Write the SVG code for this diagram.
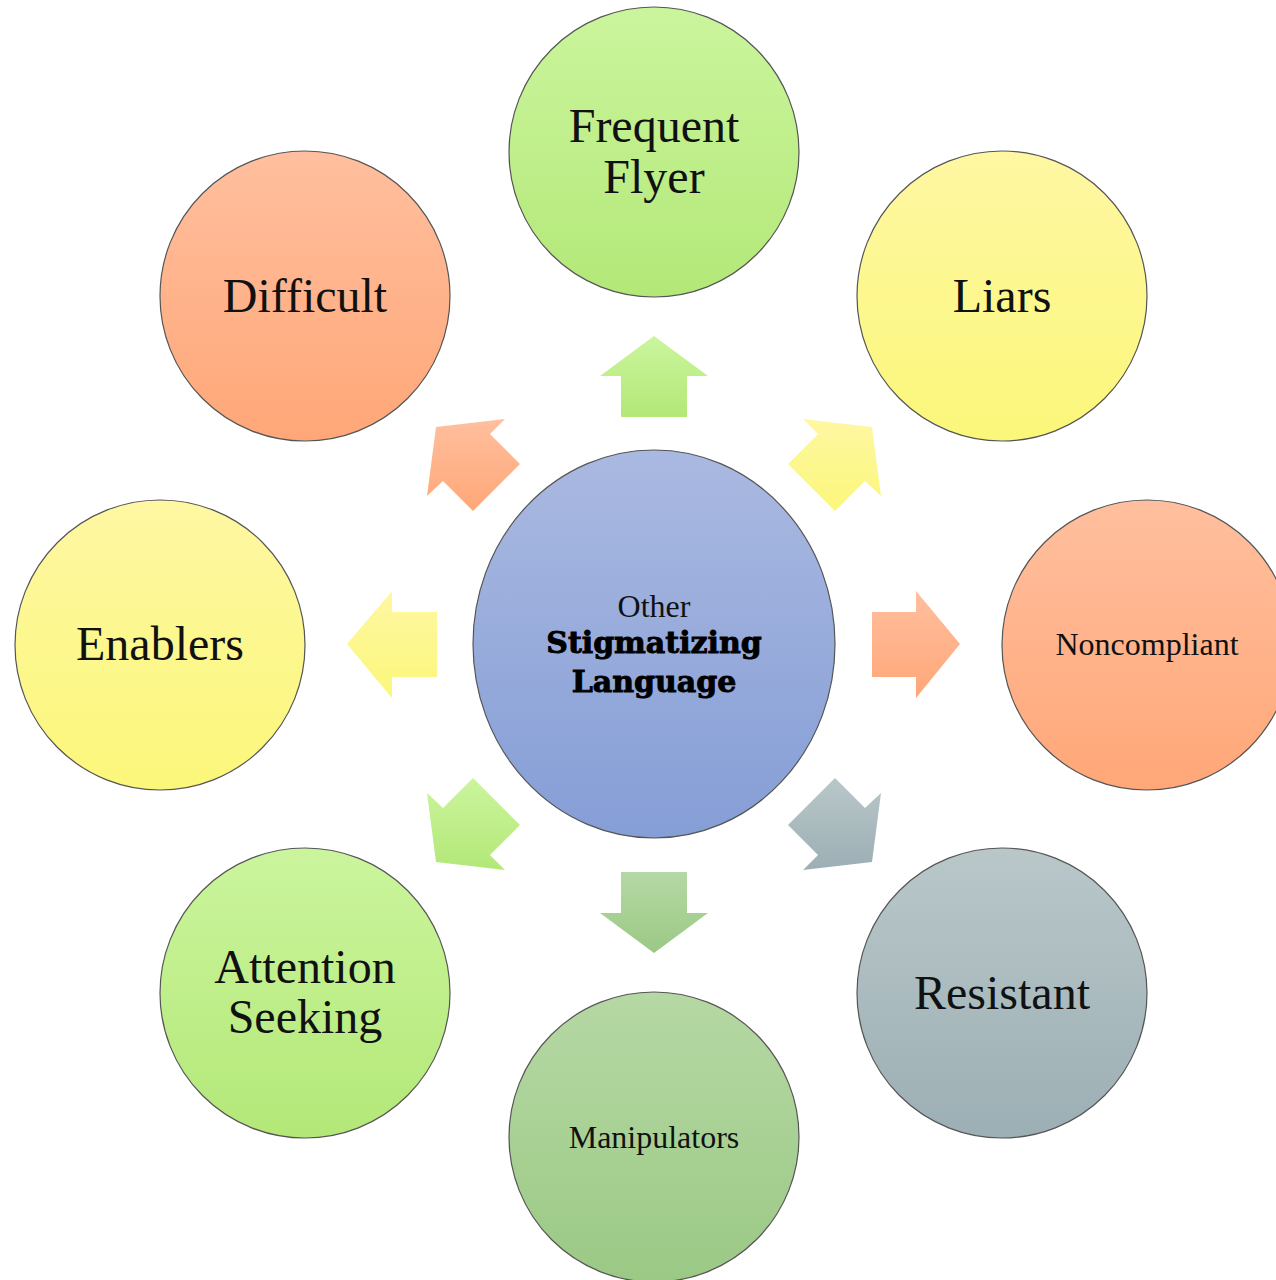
<svg xmlns="http://www.w3.org/2000/svg" width="1276" height="1280" viewBox="0 0 1276 1280">
  <defs>
    <linearGradient id="gGreen" x1="0" y1="0" x2="0" y2="1">
      <stop offset="0" stop-color="#cbf59d"/>
      <stop offset="1" stop-color="#b3e878"/>
    </linearGradient>
    <linearGradient id="gOrange" x1="0" y1="0" x2="0" y2="1">
      <stop offset="0" stop-color="#ffbf9e"/>
      <stop offset="1" stop-color="#ffa778"/>
    </linearGradient>
    <linearGradient id="gYellow" x1="0" y1="0" x2="0" y2="1">
      <stop offset="0" stop-color="#fff7a3"/>
      <stop offset="1" stop-color="#fbf77a"/>
    </linearGradient>
    <linearGradient id="gGray" x1="0" y1="0" x2="0" y2="1">
      <stop offset="0" stop-color="#b9c7c9"/>
      <stop offset="1" stop-color="#9cafb4"/>
    </linearGradient>
    <linearGradient id="gSage" x1="0" y1="0" x2="0" y2="1">
      <stop offset="0" stop-color="#b6d8a4"/>
      <stop offset="1" stop-color="#9bc985"/>
    </linearGradient>
    <linearGradient id="gBlue" x1="0" y1="0" x2="0" y2="1">
      <stop offset="0" stop-color="#aab9e1"/>
      <stop offset="1" stop-color="#859ed6"/>
    </linearGradient>
  </defs>
  <style>
    .node { stroke: #555555; stroke-width: 1.2; }
    .lbl { font-family: "Liberation Serif", "DejaVu Serif", serif; font-size: 48px; fill: #111111; text-anchor: middle; }
    .sm { font-size: 32px; }
    .bold { font-family: "DejaVu Serif", "Liberation Serif", serif; font-weight: bold; font-size: 30px; fill: #000000; stroke: #000000; stroke-width: 0.9; text-anchor: middle; }
  </style>
  <rect width="1276" height="1280" fill="#ffffff"/>

  <!-- block arrows from the hub to each outer circle -->
  <g id="connectors">
    <polygon fill="url(#gGreen)" points="621,417 621,376 600,376 654,336 708,376 687,376 687,417"/>
    <polygon fill="url(#gSage)" points="621,872 621,913 600,913 654,953 708,913 687,913 687,872"/>
    <polygon fill="url(#gYellow)" points="437,612 392,612 392,591 347,644 392,698 392,677 437,677"/>
    <polygon fill="url(#gOrange)" points="872,612 916,612 916,591 960,644 916,698 916,677 872,677"/>
    <polygon fill="url(#gOrange)" points="520,464 490,434 505,419 436,427 427,496 443,481 473,511"/>
    <polygon fill="url(#gYellow)" points="788,464 818,434 803,419 872,427 881,496 865,481 835,511"/>
    <polygon fill="url(#gGray)" points="788,825 818,855 803,870 872,862 881,793 865,808 835,778"/>
    <polygon fill="url(#gGreen)" points="520,825 490,855 505,870 436,862 427,793 443,808 473,778"/>
  </g>

  <g id="hub">
    <ellipse class="node" cx="654" cy="644" rx="181" ry="194" fill="url(#gBlue)"/>
    <text class="lbl sm" x="654" y="617">Other</text>
    <text class="bold" x="654" y="653">Stigmatizing</text>
    <text class="bold" x="654" y="692">Language</text>
  </g>

  <g id="frequent-flyer">
    <circle class="node" cx="654" cy="152" r="145" fill="url(#gGreen)"/>
    <text class="lbl" x="654" y="142">Frequent</text>
    <text class="lbl" x="654" y="193">Flyer</text>
  </g>

  <g id="difficult">
    <circle class="node" cx="305" cy="296" r="145" fill="url(#gOrange)"/>
    <text class="lbl" x="305" y="312">Difficult</text>
  </g>

  <g id="liars">
    <circle class="node" cx="1002" cy="296" r="145" fill="url(#gYellow)"/>
    <text class="lbl" x="1002" y="312">Liars</text>
  </g>

  <g id="enablers">
    <circle class="node" cx="160" cy="645" r="145" fill="url(#gYellow)"/>
    <text class="lbl" x="160" y="660">Enablers</text>
  </g>

  <g id="noncompliant">
    <circle class="node" cx="1147" cy="645" r="145" fill="url(#gOrange)"/>
    <text class="lbl sm" x="1147" y="655">Noncompliant</text>
  </g>

  <g id="attention-seeking">
    <circle class="node" cx="305" cy="993" r="145" fill="url(#gGreen)"/>
    <text class="lbl" x="305" y="983">Attention</text>
    <text class="lbl" x="305" y="1033">Seeking</text>
  </g>

  <g id="manipulators">
    <circle class="node" cx="654" cy="1137" r="145" fill="url(#gSage)"/>
    <text class="lbl sm" x="654" y="1148">Manipulators</text>
  </g>

  <g id="resistant">
    <circle class="node" cx="1002" cy="993" r="145" fill="url(#gGray)"/>
    <text class="lbl" x="1002" y="1009">Resistant</text>
  </g>
</svg>
